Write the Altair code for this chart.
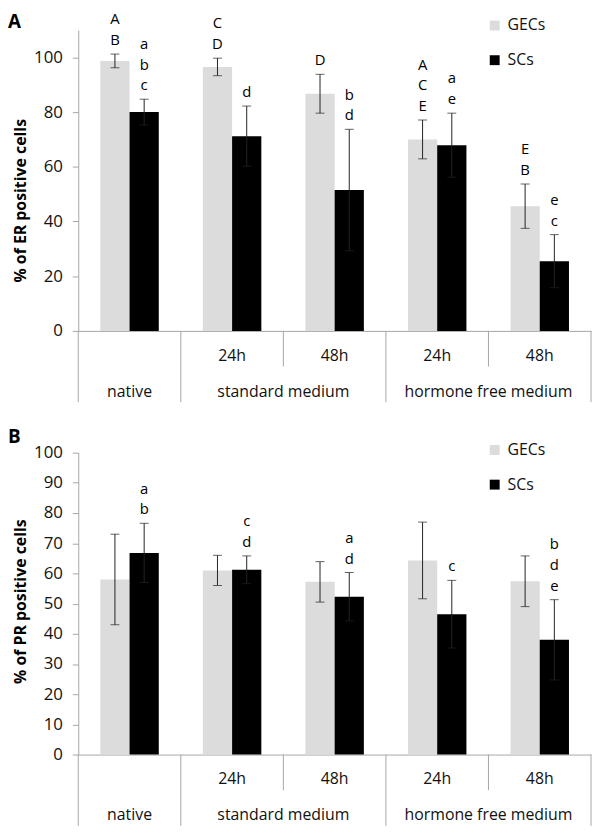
import altair as alt
import pandas as pd

FONT = "Open Sans"
GRID = "#a6a6a6"
GEC_COLOR = "#dcdcdc"
ERR_COLOR = "#222222"

categories = ["native", "std 24h", "std 48h", "hf 24h", "hf 48h"]
sub_labels = ["", "24h", "48h", "24h", "48h"]
series = ["GECs", "SCs"]

# Panel A: ER
er_gecs_mean = [98.7, 96.5, 86.7, 70.0, 45.6]
er_gecs_sd = [2.5, 3.2, 7.1, 7.1, 8.1]
er_scs_mean = [80.0, 71.2, 51.5, 67.9, 25.5]
er_scs_sd = [4.7, 11.0, 22.2, 11.7, 9.7]
er_gecs_letters = ["A B", "C D", "D", "A C E", "E B"]
er_scs_letters = ["a b c", "d", "b d", "a e", "e c"]

# Panel B: PR
pr_gecs_mean = [58.0, 61.0, 57.2, 64.3, 57.4]
pr_gecs_sd = [15.0, 5.0, 6.7, 12.7, 8.4]
pr_scs_mean = [66.8, 61.2, 52.3, 46.5, 38.0]
pr_scs_sd = [9.8, 4.6, 8.0, 11.2, 13.3]
pr_gecs_letters = ["", "", "", "", ""]
pr_scs_letters = ["a b", "c d", "a d", "c", "b d e"]

group_names = ["native", "standard medium", "hormone free medium"]
group_anchor = ["native", "std 48h", "hf 48h"]

sep_long_start = ["native", "std 24h", "hf 24h"]
sep_short_start = ["std 48h", "hf 48h"]
sep_end = ["hf 48h"]

W = 518


def build(gm, gs, sm, ss, gl, sl):
    rows, lrows = [], []
    for i, c in enumerate(categories):
        for s, m, d, l in (("GECs", gm[i], gs[i], gl[i]), ("SCs", sm[i], ss[i], sl[i])):
            rows.append(dict(cat=c, series=s, mean=m, lo=m - d, hi=m + d))
            letters = l.split()
            for k, t in enumerate(reversed(letters)):
                lrows.append(dict(cat=c, series=s, hi=m + d, k=k, letter=t))
    return pd.DataFrame(rows), pd.DataFrame(lrows)


x_scale = alt.Scale(domain=categories, paddingInner=0, paddingOuter=0)
xo_scale = alt.Scale(domain=series, paddingInner=0, paddingOuter=0.754)
x_axis = alt.Axis(labels=False, ticks=False, title=None, domainColor=GRID, domainWidth=1, grid=False)


def panel(df, ldf, ymax, yvals, ytitle, title_y, plabel, label_y, legend_y, H):
    ys = alt.Scale(domain=[0, ymax], nice=False, zero=True)
    yax = alt.Axis(values=yvals, title=ytitle, titleX=-50, titleY=title_y, grid=False,
                   tickSize=6, labelPadding=10, domainColor=GRID, tickColor=GRID)
    X = alt.X("cat:N", scale=x_scale, axis=x_axis)
    XO = alt.XOffset("series:N", scale=xo_scale)

    bars = alt.Chart(df).mark_bar().encode(
        x=X, xOffset=XO,
        y=alt.Y("mean:Q", scale=ys, axis=yax),
        color=alt.Color("series:N", scale=alt.Scale(domain=series, range=[GEC_COLOR, "#000000"]),
                        legend=alt.Legend(orient="none", legendX=412.7, legendY=legend_y, title=None,
                                          symbolType="square", symbolSize=100, symbolStrokeWidth=0,
                                          labelFontSize=16, labelFont=FONT, labelColor="#111",
                                          labelOffset=5, rowPadding=19, padding=0)),
    )
    err = alt.Chart(df).mark_rule(color=ERR_COLOR, strokeWidth=1).encode(
        x=X, xOffset=XO, y=alt.Y("lo:Q", scale=ys, axis=yax), y2="hi:Q")
    cap_hi = alt.Chart(df).mark_tick(color=ERR_COLOR, thickness=1, size=9, orient="horizontal").encode(
        x=X, xOffset=XO, y=alt.Y("hi:Q", scale=ys, axis=yax))
    cap_lo = alt.Chart(df).mark_tick(color=ERR_COLOR, thickness=1, size=9, orient="horizontal").encode(
        x=X, xOffset=XO, y=alt.Y("lo:Q", scale=ys, axis=yax))

    layers = [bars, err, cap_hi, cap_lo]
    for k in range(3):
        layers.append(
            alt.Chart(ldf).transform_filter(f"datum.k == {k}").mark_text(
                dy=-(9 + 21 * k), baseline="alphabetic", fontSize=15, font=FONT, color="#000"
            ).encode(x=X, xOffset=XO, y=alt.Y("hi:Q", scale=ys, axis=yax), text="letter:N")
        )

    # category table lines
    layers.append(alt.Chart(pd.DataFrame({"cat": sep_long_start})).mark_rule(color=GRID).encode(
        x=alt.X("cat:N", bandPosition=0, scale=x_scale, axis=x_axis),
        y=alt.value(H), y2=alt.value(H + 72)))
    layers.append(alt.Chart(pd.DataFrame({"cat": sep_end})).mark_rule(color=GRID).encode(
        x=alt.X("cat:N", bandPosition=1, scale=x_scale, axis=x_axis),
        y=alt.value(H), y2=alt.value(H + 72)))
    layers.append(alt.Chart(pd.DataFrame({"cat": sep_short_start})).mark_rule(color=GRID).encode(
        x=alt.X("cat:N", bandPosition=0, scale=x_scale, axis=x_axis),
        y=alt.value(H), y2=alt.value(H + 36)))
    # labels
    layers.append(alt.Chart(pd.DataFrame({"cat": categories, "lab": sub_labels})).mark_text(
        fontSize=16, font=FONT, color="#111", baseline="middle").encode(
        x=alt.X("cat:N", scale=x_scale, axis=x_axis), y=alt.value(H + 25), text="lab:N"))
    gdf = pd.DataFrame({"cat": group_anchor, "lab": group_names})
    layers.append(alt.Chart(gdf).transform_filter("datum.cat == 'native'").mark_text(
        fontSize=16, font=FONT, color="#111", baseline="middle").encode(
        x=alt.X("cat:N", bandPosition=0.5, scale=x_scale, axis=x_axis), y=alt.value(H + 61.5), text="lab:N"))
    layers.append(alt.Chart(gdf).transform_filter("datum.cat != 'native'").mark_text(
        fontSize=16, font=FONT, color="#111", baseline="middle").encode(
        x=alt.X("cat:N", bandPosition=0, scale=x_scale, axis=x_axis), y=alt.value(H + 61.5), text="lab:N"))
    # panel label
    layers.append(alt.Chart(pd.DataFrame({"t": [plabel]})).mark_text(
        fontSize=19, fontWeight="bold", font=FONT, color="#000", align="left", baseline="alphabetic").encode(
        x=alt.value(-71), y=alt.value(label_y), text="t:N"))

    return alt.layer(*layers).properties(width=W, height=H)


er_df, er_ldf = build(er_gecs_mean, er_gecs_sd, er_scs_mean, er_scs_sd, er_gecs_letters, er_scs_letters)
pr_df, pr_ldf = build(pr_gecs_mean, pr_gecs_sd, pr_scs_mean, pr_scs_sd, pr_gecs_letters, pr_scs_letters)

chart_a = panel(er_df, er_ldf, 110, [0, 20, 40, 60, 80, 100], "% of ER positive cells", 172, "A", -2, -12.5, 304)
chart_b = panel(pr_df, pr_ldf, 100, list(range(0, 101, 10)), "% of PR positive cells", 150, "B", -10, -10.7, 305)

chart = alt.vconcat(chart_a, chart_b, spacing=25).resolve_scale(color="independent").resolve_legend(
    color="independent"
).configure_view(stroke=None).configure_axis(
    labelFont=FONT, labelFontSize=17, labelColor="#111", titleFont=FONT, titleFontSize=16,
    titleFontWeight="bold", titleColor="#000"
).properties(padding=0)

chart.save("out.html", embed_options={"renderer": "svg", "actions": False})
